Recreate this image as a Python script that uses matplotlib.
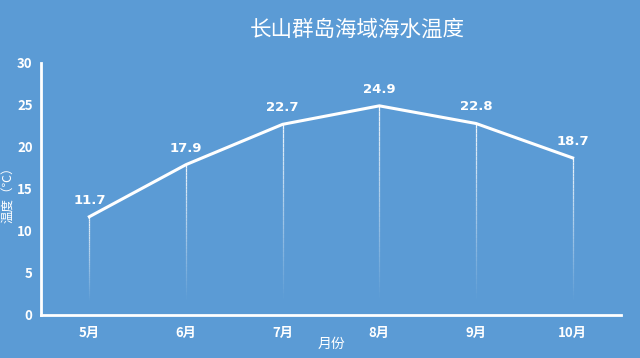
import numpy as np
import matplotlib.pyplot as plt
from matplotlib.collections import LineCollection

plt.rcParams['font.family'] = ['Noto Sans CJK SC', 'DejaVu Sans']

months = ['5月', '6月', '7月', '8月', '9月', '10月']
temps = [11.7, 17.9, 22.7, 24.9, 22.8, 18.7]

bg = '#5b9bd5'
fig = plt.figure(figsize=(6.4, 3.58), dpi=100, facecolor=bg)
ax = fig.add_axes([41 / 640, 1 - 315 / 358, 580 / 640, 252 / 358])
ax.set_facecolor(bg)

x = np.arange(len(months))
ax.plot(x, temps, color='white', lw=2.2, zorder=3, solid_joinstyle='miter')

# fading drop lines from each point
for xi, t in zip(x, temps):
    ys = np.linspace(t, 1.5, 40)
    segs = [[(xi, ys[i]), (xi, ys[i + 1])] for i in range(len(ys) - 1)]
    alphas = np.linspace(0.9, 0.0, len(segs))
    cols = [(1, 1, 1, a) for a in alphas]
    ax.add_collection(LineCollection(segs, colors=cols, linewidths=0.9, zorder=2))
    ax.text(xi, t + 1.2, f'{t}', color='white', fontsize=9.5, fontweight='bold',
            ha='center', va='bottom', family='DejaVu Sans')

ax.set_xlim(-0.5, len(months) - 0.5)
ax.set_ylim(0, 30)
ax.set_yticks(range(0, 31, 5))
ax.set_xticks(x)
ax.set_xticklabels(months)
for lab in ax.get_xticklabels() + ax.get_yticklabels():
    lab.set_color('white')
    lab.set_fontweight('bold')
    lab.set_fontsize(9.5)
ax.tick_params(axis='y', length=0, pad=6)
ax.tick_params(axis='x', length=0, pad=8)

for s in ['top', 'right']:
    ax.spines[s].set_visible(False)
for s in ['left', 'bottom']:
    ax.spines[s].set_color('white')
    ax.spines[s].set_linewidth(2)

ax.set_xlabel('月份', color='white', fontsize=10, labelpad=-2)
fig.text(9 / 640, 1 - 192 / 358, '温度（℃）', color='white', fontsize=9,
         rotation=90, ha='center', va='center')
fig.text(357 / 640, 1 - 30 / 358, '长山群岛海域海水温度', color='white', fontsize=15.5,
         ha='center', va='center')

fig.savefig('out.png', dpi=100, facecolor=bg)
